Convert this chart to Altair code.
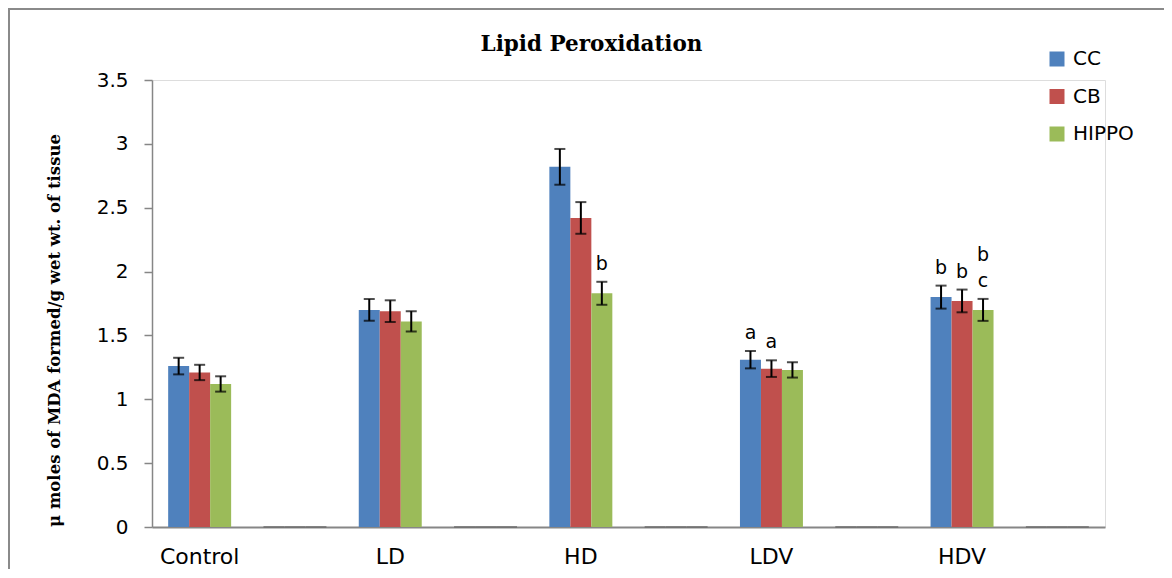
import altair as alt
import pandas as pd

# ---- data ----
categories = ["Control", " ", "LD", "  ", "HD", "   ", "LDV", "    ", "HDV", "     "]
series_names = ["CC", "CB", "HIPPO"]
series_colors = ["#4F81BD", "#C0504D", "#9BBB59"]

cc_values = [1.26, 0, 1.70, 0, 2.82, 0, 1.31, 0, 1.80, 0]
cb_values = [1.21, 0, 1.69, 0, 2.42, 0, 1.24, 0, 1.77, 0]
hippo_values = [1.12, 0, 1.61, 0, 1.83, 0, 1.23, 0, 1.70, 0]

cc_errors = [0.065, 0, 0.085, 0, 0.14, 0, 0.068, 0, 0.09, 0]
cb_errors = [0.06, 0, 0.085, 0, 0.124, 0, 0.065, 0, 0.089, 0]
hippo_errors = [0.06, 0, 0.08, 0, 0.09, 0, 0.06, 0, 0.086, 0]

ann_category = ["HD", "LDV", "LDV", "HDV", "HDV", "HDV", "HDV"]
ann_series = ["HIPPO", "CC", "CB", "CC", "CB", "HIPPO", "HIPPO"]
ann_text = ["b", "a", "a", "b", "b", "c", "b"]
ann_level = [0, 0, 0, 0, 0, 0, 1]

title_text = "Lipid Peroxidation"
y_title = "\u03bc moles of MDA formed/g wet wt. of tissue"

# ---- tables ----
rows = []
for s, vals, errs in zip(series_names,
                         [cc_values, cb_values, hippo_values],
                         [cc_errors, cb_errors, hippo_errors]):
    for c, v, e in zip(categories, vals, errs):
        rows.append({"category": c, "series": s, "value": v, "err": e,
                     "lo": v - e, "hi": v + e})
df = pd.DataFrame(rows)
df_err = df[df["err"] > 0]

lookup = {(r["category"], r["series"]): r for r in rows}
ann_rows = []
for c, s, t, lv in zip(ann_category, ann_series, ann_text, ann_level):
    r = lookup[(c, s)]
    ann_rows.append({"category": c, "series": s, "label": t, "level": lv,
                     "top": r["hi"]})
df_ann = pd.DataFrame(ann_rows)

SANS = "DejaVu Sans"
SERIF = "DejaVu Serif"
AXIS_GRAY = "#868686"

W, H = 953, 447

x_enc = alt.X("category:N", sort=categories,
              scale=alt.Scale(paddingInner=0, paddingOuter=0),
              axis=alt.Axis(title=None, labelAngle=0, ticks=False,
                            labelFont=SANS, labelFontSize=22, labelColor="black",
                            labelPadding=19, domainColor=AXIS_GRAY, domainWidth=2))
xo_enc = alt.XOffset("series:N", sort=series_names,
                     scale=alt.Scale(paddingInner=0, paddingOuter=0.77))
y_scale = alt.Scale(domain=[0, 3.5], nice=False)

bars = alt.Chart(df).mark_bar().encode(
    x=x_enc,
    xOffset=xo_enc,
    y=alt.Y("value:Q", scale=y_scale,
            axis=alt.Axis(title=y_title, values=[0, 0.5, 1, 1.5, 2, 2.5, 3, 3.5],
                          format=".1~f", grid=False,
                          labelFont=SANS, labelFontSize=20, labelColor="black",
                          labelPadding=16, tickSize=8, tickColor=AXIS_GRAY,
                          tickWidth=1.5, domainColor=AXIS_GRAY, domainWidth=1.5,
                          titleFont=SERIF, titleFontSize=16.5, titleFontWeight="bold",
                          titleColor="black", titleAngle=-90, titleAlign="center",
                          titleBaseline="alphabetic", titleX=-93, titleY=250)),
    color=alt.Color("series:N", sort=series_names,
                    scale=alt.Scale(domain=series_names, range=series_colors),
                    legend=alt.Legend(title=None, orient="none", legendX=895,
                                      legendY=-31, symbolType="square",
                                      symbolSize=225, symbolStrokeWidth=0,
                                      labelFont=SANS, labelFontSize=20,
                                      labelColor="black", labelOffset=6,
                                      rowPadding=17.5)),
    stroke=alt.condition(alt.datum.value == 0, alt.value("#6e6e6e"), alt.value("transparent")),
    strokeWidth=alt.condition(alt.datum.value == 0, alt.value(1.5), alt.value(0)),
)

rules = alt.Chart(df_err).mark_rule(color="black", strokeWidth=2).encode(
    x=alt.X("category:N", sort=categories), xOffset=xo_enc,
    y=alt.Y("lo:Q", scale=y_scale), y2="hi:Q")
caps_lo = alt.Chart(df_err).mark_tick(color="black", thickness=2, size=11).encode(
    x=alt.X("category:N", sort=categories), xOffset=xo_enc,
    y=alt.Y("lo:Q", scale=y_scale))
caps_hi = alt.Chart(df_err).mark_tick(color="black", thickness=2, size=11).encode(
    x=alt.X("category:N", sort=categories), xOffset=xo_enc,
    y=alt.Y("hi:Q", scale=y_scale))

ann0 = alt.Chart(df_ann[df_ann["level"] == 0]).mark_text(
    font=SANS, fontSize=19, color="black", baseline="alphabetic", dy=-12).encode(
    x=alt.X("category:N", sort=categories), xOffset=xo_enc,
    y=alt.Y("top:Q", scale=y_scale), text="label:N")
ann1 = alt.Chart(df_ann[df_ann["level"] == 1]).mark_text(
    font=SANS, fontSize=19, color="black", baseline="alphabetic", dy=-38).encode(
    x=alt.X("category:N", sort=categories), xOffset=xo_enc,
    y=alt.Y("top:Q", scale=y_scale), text="label:N")

# chart-area frame: only its left and top edges fall inside the picture
one_row = pd.DataFrame({"k": [0]})
frame_left = alt.Chart(one_row).mark_rule(color="#8a8a8a", strokeWidth=2).encode(
    x=alt.value(-143), y=alt.value(-72), y2=alt.value(520))
frame_top = alt.Chart(one_row).mark_rule(color="#8a8a8a", strokeWidth=2).encode(
    x=alt.value(-144), x2=alt.value(1020), y=alt.value(-71))

chart = alt.layer(frame_left, frame_top, bars, rules, caps_lo, caps_hi, ann0, ann1).properties(
    width=W, height=H,
    title=alt.TitleParams(title_text, font=SERIF, fontSize=21.5, fontWeight="bold",
                          color="black", anchor="middle", frame="group",
                          baseline="alphabetic", offset=0, dy=65, dx=-37),
    autosize=alt.AutoSizeParams(type="none"),
    padding={"left": 144, "top": 72, "right": 59, "bottom": 42},
).configure_view(stroke=None).configure(background="white")

chart.save("out.html", embed_options={"renderer": "svg", "actions": False})
